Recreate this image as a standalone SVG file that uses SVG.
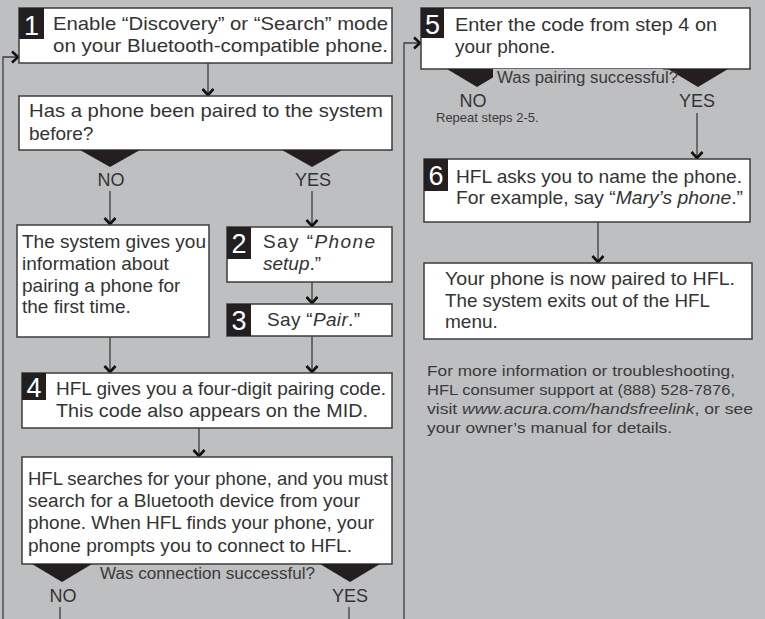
<svg xmlns="http://www.w3.org/2000/svg" width="765" height="619" viewBox="0 0 765 619">
<defs>
<style>
.bg{fill:#bebfc1}
.box{fill:#fff;stroke:#3c3c3c;stroke-width:1.5}
.badge{fill:#231f20}
.num{font-family:"Liberation Sans",Arial,sans-serif;font-size:27px;fill:#fff;text-anchor:middle}
.t{font-family:"Liberation Sans",Arial,sans-serif;font-size:19px;fill:#333}
.it{font-style:italic}
.lbl{font-family:"Liberation Sans",Arial,sans-serif;font-size:18px;fill:#333;text-anchor:middle}
.q{font-family:"Liberation Sans",Arial,sans-serif;font-size:16px;fill:#3a3a3a}
.s{font-family:"Liberation Sans",Arial,sans-serif;font-size:13px;fill:#3a3a3a}
.f{font-family:"Liberation Sans",Arial,sans-serif;font-size:15px;fill:#3a3a3a}
.wedge{fill:#231f20}
.c{fill:none;stroke:#3c3c3c;stroke-width:1.3}
</style>
<marker id="arr" viewBox="-8 -7 10 14" refX="0" refY="0" markerWidth="10" markerHeight="14" markerUnits="userSpaceOnUse" orient="auto">
<path d="M-6,-5.5 L0,0 L-6,5.5" fill="none" stroke="#111" stroke-width="2.6"/>
</marker>
</defs>
<rect class="bg" x="0" y="0" width="765" height="619"/>

<g id="connectors">
<path class="c" d="M3,619 V57 H18" marker-end="url(#arr)"/>
<path class="c" d="M404,619 V43 H420" marker-end="url(#arr)"/>
<path class="c" d="M208,63 V95" marker-end="url(#arr)"/>
<path class="c" d="M110,191 V224" marker-end="url(#arr)"/>
<path class="c" d="M312,191 V226" marker-end="url(#arr)"/>
<path class="c" d="M312,282 V303" marker-end="url(#arr)"/>
<path class="c" d="M110,337 V372" marker-end="url(#arr)"/>
<path class="c" d="M312,336 V372" marker-end="url(#arr)"/>
<path class="c" d="M199,428 V456" marker-end="url(#arr)"/>
<path class="c" d="M60,607 V619"/>
<path class="c" d="M349,607 V619"/>
<path class="c" d="M697,113 V158" marker-end="url(#arr)"/>
<path class="c" d="M598,222 V262" marker-end="url(#arr)"/>
</g>

<g id="step1">
<rect class="box" x="19" y="8" width="373" height="55"/>
<rect class="badge" x="19" y="8" width="25" height="31"/>
<text class="num" x="31.5" y="35">1</text>
<text class="t" x="53" y="30" textLength="335" lengthAdjust="spacingAndGlyphs">Enable “Discovery” or “Search” mode</text>
<text class="t" x="53" y="52" textLength="335" lengthAdjust="spacingAndGlyphs">on your Bluetooth-compatible phone.</text>
</g>

<g id="q-paired">
<rect class="box" x="19" y="96" width="373" height="54"/>
<text class="t" x="29" y="117" textLength="354" lengthAdjust="spacingAndGlyphs">Has a phone been paired to the system</text>
<text class="t" x="29" y="140">before?</text>
<polygon class="wedge" points="80,150 140,150 110,167"/>
<polygon class="wedge" points="282,150 342,150 312,167"/>
<text class="lbl" x="111" y="186">NO</text>
<text class="lbl" x="313" y="186">YES</text>
</g>

<g id="first-time">
<rect class="box" x="17" y="225" width="192" height="112"/>
<text class="t" x="22" y="248" textLength="184" lengthAdjust="spacingAndGlyphs">The system gives you</text>
<text class="t" x="22" y="270">information about</text>
<text class="t" x="22" y="292">pairing a phone for</text>
<text class="t" x="22" y="313">the first time.</text>
</g>

<g id="step2">
<rect class="box" x="227" y="227" width="165" height="55"/>
<rect class="badge" x="227" y="227" width="24" height="32"/>
<text class="num" x="239" y="253">2</text>
<text class="t" x="263" y="248" textLength="112" lengthAdjust="spacing">Say “<tspan class="it">Phone</tspan></text>
<text class="t" x="263" y="270"><tspan class="it">setup</tspan>.”</text>
</g>

<g id="step3">
<rect class="box" x="227" y="304" width="165" height="32"/>
<rect class="badge" x="227" y="304" width="24" height="32"/>
<text class="num" x="239" y="330">3</text>
<text class="t" x="267" y="326" textLength="93" lengthAdjust="spacing">Say “<tspan class="it">Pair</tspan>.”</text>
</g>

<g id="step4">
<rect class="box" x="22" y="373" width="370" height="55"/>
<rect class="badge" x="22" y="373" width="24" height="27"/>
<text class="num" x="34" y="397">4</text>
<text class="t" x="56" y="395" textLength="330" lengthAdjust="spacingAndGlyphs">HFL gives you a four-digit pairing code.</text>
<text class="t" x="56" y="417" textLength="312" lengthAdjust="spacingAndGlyphs">This code also appears on the MID.</text>
</g>

<g id="search">
<rect class="box" x="22" y="457" width="370" height="107"/>
<text class="t" x="28" y="485" textLength="360" lengthAdjust="spacingAndGlyphs">HFL searches for your phone, and you must</text>
<text class="t" x="28" y="507" textLength="332" lengthAdjust="spacingAndGlyphs">search for a Bluetooth device from your</text>
<text class="t" x="28" y="529" textLength="346" lengthAdjust="spacingAndGlyphs">phone. When HFL finds your phone, your</text>
<text class="t" x="28" y="552" textLength="324" lengthAdjust="spacingAndGlyphs">phone prompts you to connect to HFL.</text>
<polygon class="wedge" points="32,564 92,564 62,582"/>
<polygon class="wedge" points="320,564 380,564 350,582"/>
<text class="q" x="100" y="579" textLength="215" lengthAdjust="spacingAndGlyphs">Was connection successful?</text>
<text class="lbl" x="63" y="602">NO</text>
<text class="lbl" x="350" y="602">YES</text>
</g>

<g id="step5">
<rect class="box" x="421" y="8" width="329" height="61"/>
<rect class="badge" x="421" y="8" width="23" height="30"/>
<text class="num" x="432.5" y="34">5</text>
<text class="t" x="455" y="31" textLength="262" lengthAdjust="spacingAndGlyphs">Enter the code from step 4 on</text>
<text class="t" x="455" y="53">your phone.</text>
<polygon class="wedge" points="447,69 507,69 477,87"/>
<polygon class="wedge" points="668,69 728,69 698,87"/>
<rect class="bg" x="493" y="69" width="170" height="17"/>
<text class="q" x="497" y="83" textLength="181" lengthAdjust="spacingAndGlyphs">Was pairing successful?</text>
<text class="lbl" x="473" y="107">NO</text>
<text class="s" x="436" y="122">Repeat steps 2-5.</text>
<text class="lbl" x="697" y="107">YES</text>
</g>

<g id="step6">
<rect class="box" x="424" y="159" width="326" height="63"/>
<rect class="badge" x="424" y="159" width="24" height="32"/>
<text class="num" x="436" y="185">6</text>
<text class="t" x="456" y="183" textLength="286" lengthAdjust="spacingAndGlyphs">HFL asks you to name the phone.</text>
<text class="t" x="456" y="204" textLength="287" lengthAdjust="spacingAndGlyphs">For example, say “<tspan class="it">Mary’s phone</tspan>.”</text>
</g>

<g id="done">
<rect class="box" x="424" y="263" width="328" height="76"/>
<text class="t" x="445" y="285" textLength="290" lengthAdjust="spacingAndGlyphs">Your phone is now paired to HFL.</text>
<text class="t" x="445" y="307" textLength="265" lengthAdjust="spacingAndGlyphs">The system exits out of the HFL</text>
<text class="t" x="445" y="328">menu.</text>
</g>

<g id="footer">
<text class="f" x="427" y="376" textLength="308" lengthAdjust="spacingAndGlyphs">For more information or troubleshooting,</text>
<text class="f" x="427" y="395" textLength="308" lengthAdjust="spacingAndGlyphs">HFL consumer support at (888) 528-7876,</text>
<text class="f" x="427" y="414" textLength="326" lengthAdjust="spacingAndGlyphs">visit <tspan class="it">www.acura.com/handsfreelink</tspan>, or see</text>
<text class="f" x="427" y="433" textLength="245" lengthAdjust="spacingAndGlyphs">your owner’s manual for details.</text>
</g>
</svg>
